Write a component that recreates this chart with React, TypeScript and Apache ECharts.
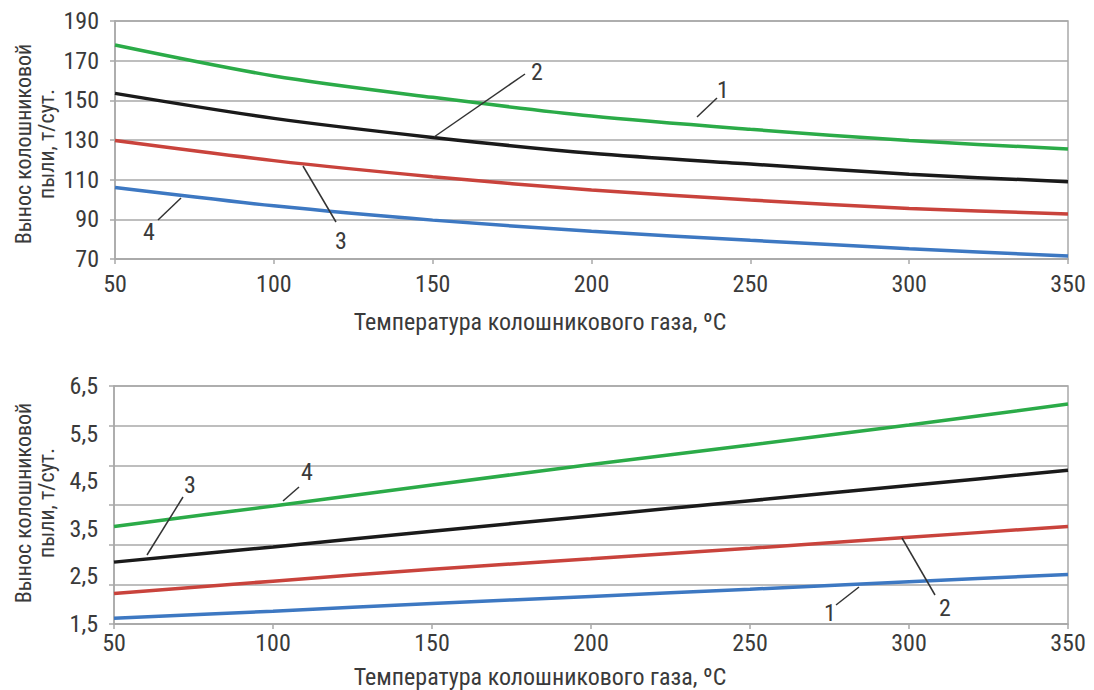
import React, { useEffect, useRef } from "react";
import * as echarts from "echarts";

// Temperature of top gas, °C
const temps = [50, 100, 150, 200, 250, 300, 350];

// Upper chart (t/day)
const top1 = [177.9, 162.3, 151.5, 142.1, 135.4, 129.7, 125.5];
const top2 = [153.5, 140.9, 131.3, 123.3, 117.9, 112.7, 109.0];
const top3 = [129.7, 119.6, 111.5, 104.8, 99.7, 95.5, 92.7];
const top4 = [106.0, 96.8, 89.6, 84.0, 79.4, 75.2, 71.5];

// Lower chart (t/day)
const bot1 = [1.62, 1.77, 1.93, 2.08, 2.23, 2.39, 2.54];
const bot2 = [2.14, 2.4, 2.65, 2.87, 3.09, 3.32, 3.55];
const bot3 = [2.8, 3.12, 3.45, 3.77, 4.09, 4.41, 4.73];
const bot4 = [3.55, 3.98, 4.42, 4.85, 5.26, 5.68, 6.12];

const xTitle = "Температура колошникового газа, ºС";
const yTitle1 = "Вынос колошниковой";
const yTitle2 = "пыли, т/сут.";

const GREEN = "#2bab48";
const BLACK = "#1a1a1a";
const RED = "#c9433c";
const BLUE = "#3d78c2";
const GRID = "#a9a9a9";
const TEXT = "#3a3a3a";
const FONT =
  "'Liberation Sans Narrow', 'Roboto Condensed', 'DejaVu Sans Condensed', 'Liberation Sans', sans-serif";

const pairs = (ys: number[]) => temps.map((t, i) => [t, ys[i]]);

const line = (
  name: string,
  ys: number[],
  color: string,
  xi: number,
  yi: number
) => ({
  name,
  type: "line",
  xAxisIndex: xi,
  yAxisIndex: yi,
  data: pairs(ys),
  smooth: 0.3,
  showSymbol: false,
  lineStyle: { color, width: 3.5 },
  itemStyle: { color },
  z: 5,
});

const leader = (x1: number, y1: number, x2: number, y2: number) => ({
  type: "line",
  shape: { x1, y1, x2, y2 },
  style: { stroke: "#333", lineWidth: 1.5 },
  z: 10,
});

const label = (text: string, x: number, y: number) => ({
  type: "text",
  x,
  y,
  style: {
    text,
    fill: TEXT,
    font: `24px ${FONT}`,
    textAlign: "center",
    textVerticalAlign: "middle",
  },
  z: 10,
});

const yTitle = (cy: number) => [
  {
    type: "text",
    x: 23,
    y: cy,
    rotation: Math.PI / 2,
    style: {
      text: yTitle1,
      fill: TEXT,
      font: `22px ${FONT}`,
      textAlign: "center",
      textVerticalAlign: "middle",
    },
  },
  {
    type: "text",
    x: 46,
    y: cy,
    rotation: Math.PI / 2,
    style: {
      text: yTitle2,
      fill: TEXT,
      font: `22px ${FONT}`,
      textAlign: "center",
      textVerticalAlign: "middle",
    },
  },
];

const xTitleText = (cy: number) => ({
  type: "text",
  x: 540,
  y: cy,
  style: {
    text: xTitle,
    fill: TEXT,
    font: `24px ${FONT}`,
    textAlign: "center",
    textVerticalAlign: "middle",
  },
});

export default function App() {
  const ref = useRef<HTMLDivElement>(null);
  useEffect(() => {
    if (!ref.current) return;
    const chart = echarts.init(ref.current, null, { renderer: "svg" });
    const axisLabel = {
      color: TEXT,
      fontSize: 24,
      fontFamily: FONT,
    };
    const xAxisBase = (gridIndex: number, margin: number) => ({
      type: "value",
      gridIndex,
      min: 50,
      max: 350,
      interval: 50,
      axisLine: { show: true, lineStyle: { color: GRID, width: 1.5 } },
      axisTick: { show: true, length: 5, lineStyle: { color: GRID, width: 1.5 } },
      axisLabel: { ...axisLabel, margin },
      splitLine: { show: false },
    });
    chart.setOption({
      animation: false,
      backgroundColor: "#ffffff",
      grid: [
        {
          left: 115,
          right: 26,
          top: 21,
          height: 238,
          show: true,
          borderColor: GRID,
          borderWidth: 1.5,
        },
        {
          left: 114,
          right: 26,
          top: 386,
          height: 238,
          show: true,
          borderColor: GRID,
          borderWidth: 1.5,
        },
      ],
      xAxis: [xAxisBase(0, 13), xAxisBase(1, 7)],
      yAxis: [
        {
          type: "value",
          gridIndex: 0,
          min: 70,
          max: 190,
          interval: 20,
          axisLine: { show: true, lineStyle: { color: GRID, width: 1.5 } },
          axisTick: { show: true, length: 5, lineStyle: { color: GRID, width: 1.5 } },
          axisLabel: { ...axisLabel, margin: 16 },
          splitLine: { show: true, lineStyle: { color: GRID, width: 1.5 } },
        },
        {
          type: "value",
          gridIndex: 1,
          min: 1.5,
          max: 6.5,
          interval: 1,
          axisLine: { show: false },
          axisTick: { show: false },
          axisLabel: {
            ...axisLabel,
            margin: 16,
            padding: [0, 0, 10, 0],
            formatter: (v: number) => v.toFixed(1).replace(".", ","),
          },
          splitLine: { show: false },
        },
        {
          type: "value",
          gridIndex: 1,
          position: "left",
          min: 0,
          max: 6,
          interval: 1,
          axisLine: { show: true, lineStyle: { color: GRID, width: 1.5 } },
          axisTick: { show: true, length: 5, lineStyle: { color: GRID, width: 1.5 } },
          axisLabel: { show: false },
          splitLine: { show: true, lineStyle: { color: GRID, width: 1.5 } },
        },
      ],
      series: [
        line("1", top1, GREEN, 0, 0),
        line("2", top2, BLACK, 0, 0),
        line("3", top3, RED, 0, 0),
        line("4", top4, BLUE, 0, 0),
        line("1 ", bot1, BLUE, 1, 1),
        line("2 ", bot2, RED, 1, 1),
        line("3 ", bot3, BLACK, 1, 1),
        line("4 ", bot4, GREEN, 1, 1),
      ],
      graphic: [
        ...yTitle(144),
        ...yTitle(503),
        xTitleText(322),
        xTitleText(677),
        // top annotations
        leader(158, 220, 181, 198),
        label("4", 149, 232),
        leader(303, 166, 336, 222),
        label("3", 341, 241),
        leader(434, 137, 525, 74),
        label("2", 537, 72),
        leader(697, 117, 717, 98),
        label("1", 723, 90),
        // bottom annotations
        leader(147, 555, 183, 497),
        label("3", 190, 485),
        leader(283, 501, 299, 487),
        label("4", 307, 472),
        leader(836, 605, 859, 587),
        label("1", 830, 613),
        leader(902, 538, 935, 595),
        label("2", 945, 608),
      ],
    });
    return () => chart.dispose();
  }, []);
  return (
    <div
      ref={ref}
      style={{ position: "fixed", left: 0, top: 0, width: 1094, height: 690 }}
    />
  );
}
